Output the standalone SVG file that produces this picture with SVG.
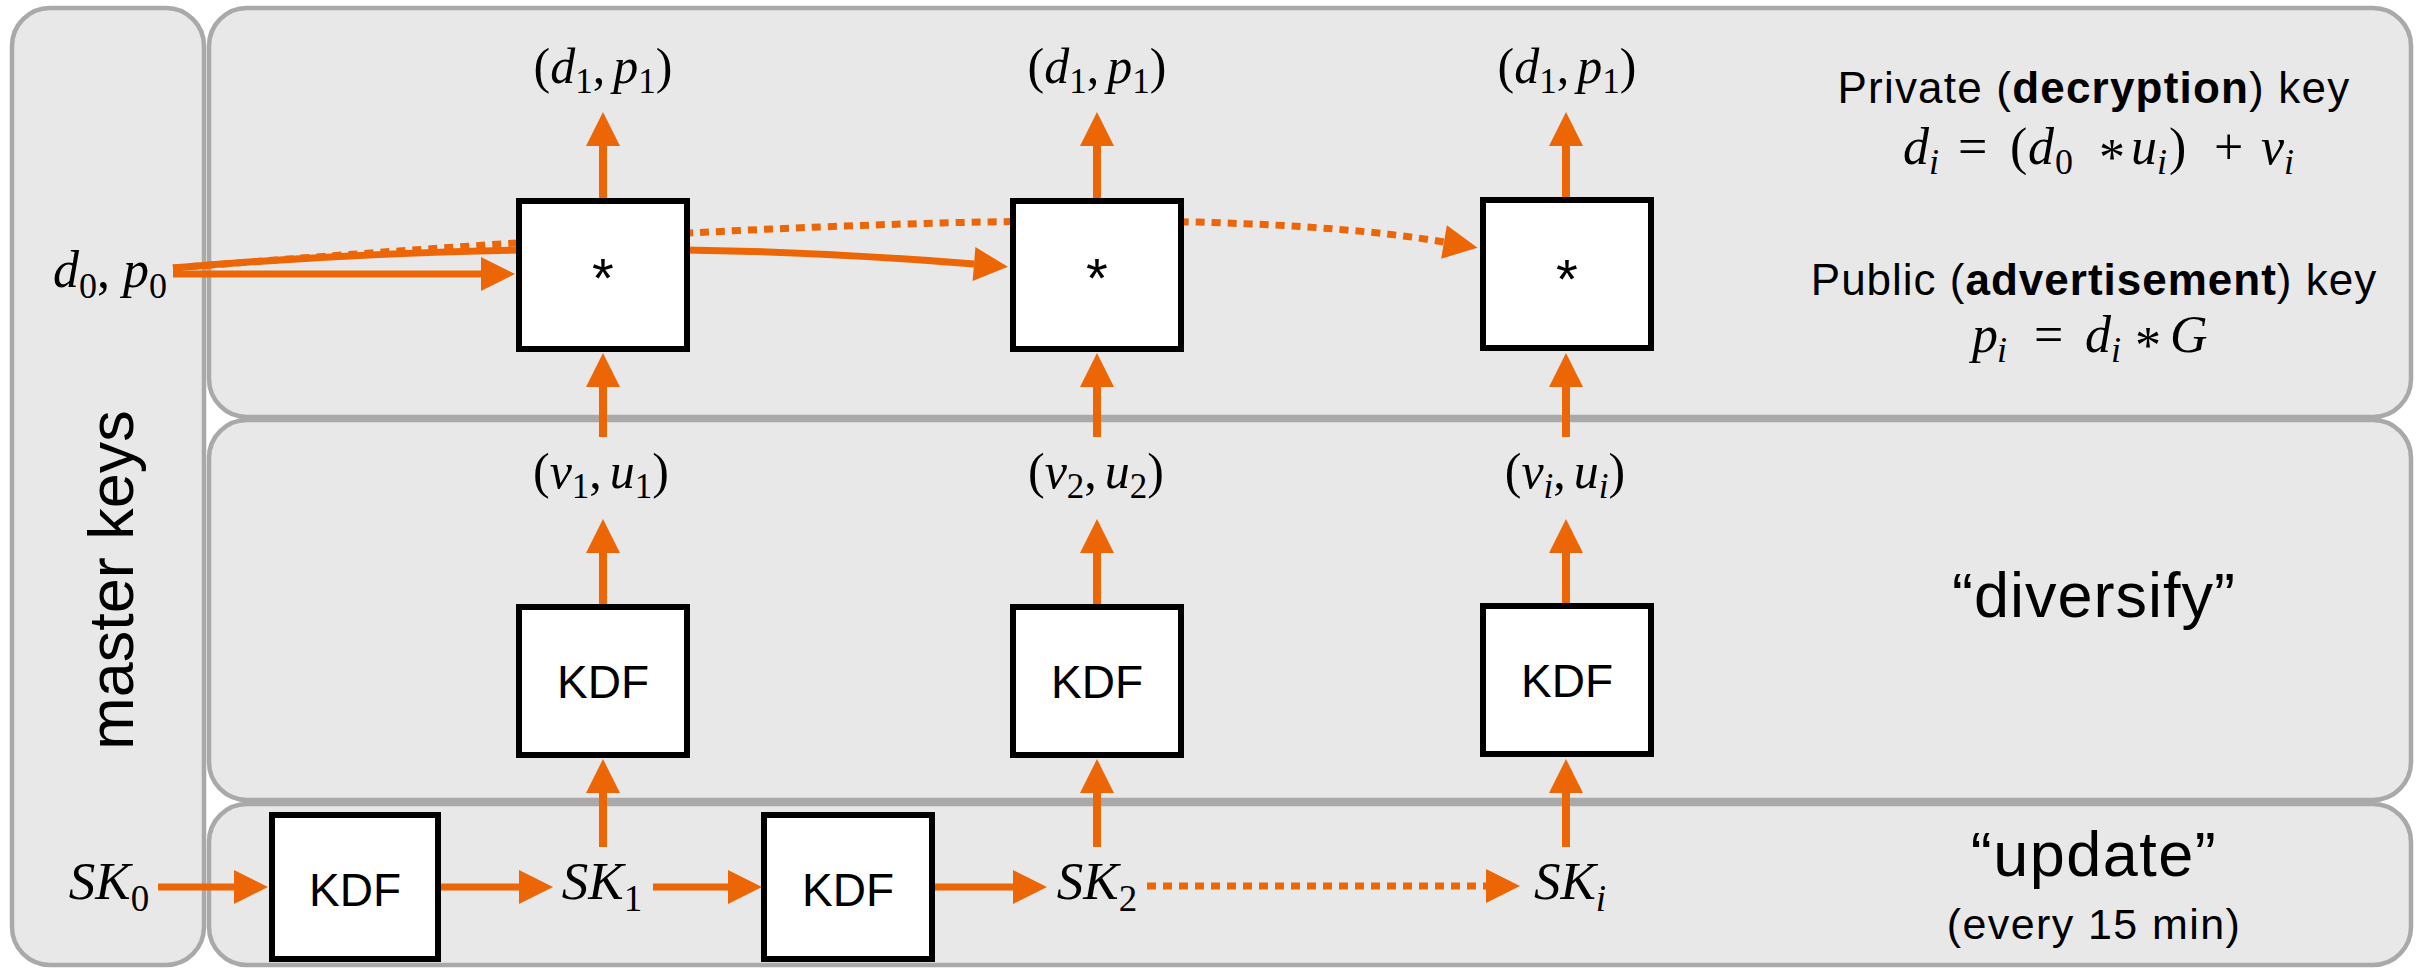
<svg xmlns="http://www.w3.org/2000/svg" width="2420" height="969" viewBox="0 0 2420 969">
  <defs>
    <style>
      .panel { fill: #e8e8e8; stroke: #a9a9a9; stroke-width: 4.5; }
      .box { fill: #ffffff; stroke: #000000; stroke-width: 6; }
      .wire { fill: none; stroke: #ec6605; stroke-width: 8; }
      .thin { stroke-width: 7; }
      .dot { stroke-dasharray: 9 7; stroke-width: 7; }
      .lbl { font-family: "Liberation Sans", Arial, sans-serif; fill: #000000; }
      .m { font-family: "Liberation Serif", "Times New Roman", serif; fill: #000000; }
      .i { font-style: italic; }
      .b { font-weight: bold; }
    </style>
    <marker id="head" markerUnits="userSpaceOnUse" markerWidth="34" markerHeight="34" refX="0" refY="17" orient="auto" overflow="visible">
      <path d="M0,0 L34,17 L0,34 Z" fill="#ec6605"/>
    </marker>
  </defs>

  <!-- background panels -->
  <g id="panel-master">
    <rect class="panel" x="12" y="8" width="192" height="957" rx="38"/>
    <text class="lbl" font-size="63" text-anchor="middle" transform="translate(133,580) rotate(-90)">master keys</text>
  </g>
  <g id="panel-keys">
    <rect class="panel" x="209" y="8" width="2202" height="409" rx="38"/>
  </g>
  <g id="panel-diversify">
    <rect class="panel" x="209" y="420" width="2202" height="380" rx="38"/>
  </g>
  <g id="panel-update">
    <rect class="panel" x="209" y="804" width="2202" height="161" rx="38"/>
  </g>

  <!-- connectors -->
  <g id="connectors">
    <!-- d0,p0 fan-out -->
    <path class="wire dot" d="M173,268 C673,228 1194,199.5 1444,242" marker-end="url(#head)"/>
    <path class="wire thin" d="M173,268 Q591,232.5 974,264" marker-end="url(#head)"/>
    <path class="wire thin" d="M173,274 H481" marker-end="url(#head)"/>

    <!-- column 1 -->
    <path class="wire" d="M603,198 V146" marker-end="url(#head)"/>
    <path class="wire" d="M603,437 V387" marker-end="url(#head)"/>
    <path class="wire" d="M603,604 V553" marker-end="url(#head)"/>
    <path class="wire" d="M603,847 V793" marker-end="url(#head)"/>
    <!-- column 2 -->
    <path class="wire" d="M1097,198 V146" marker-end="url(#head)"/>
    <path class="wire" d="M1097,437 V387" marker-end="url(#head)"/>
    <path class="wire" d="M1097,604 V553" marker-end="url(#head)"/>
    <path class="wire" d="M1097,847 V793" marker-end="url(#head)"/>
    <!-- column i -->
    <path class="wire" d="M1566,198 V146" marker-end="url(#head)"/>
    <path class="wire" d="M1566,437 V387" marker-end="url(#head)"/>
    <path class="wire" d="M1566,604 V553" marker-end="url(#head)"/>
    <path class="wire" d="M1566,847 V793" marker-end="url(#head)"/>

    <!-- update chain -->
    <path class="wire thin" d="M158,887 H234" marker-end="url(#head)"/>
    <path class="wire thin" d="M441,887 H519" marker-end="url(#head)"/>
    <path class="wire thin" d="M653,887 H728" marker-end="url(#head)"/>
    <path class="wire thin" d="M935,887 H1013" marker-end="url(#head)"/>
    <path class="wire dot" d="M1147,886 H1486" marker-end="url(#head)"/>
  </g>

  <!-- multiply nodes -->
  <g id="mul-1">
    <rect class="box" x="519" y="201" width="168" height="148"/>
    <text class="lbl" x="603" y="297" font-size="56" text-anchor="middle">*</text>
  </g>
  <g id="mul-2">
    <rect class="box" x="1013" y="201" width="168" height="148"/>
    <text class="lbl" x="1097" y="297" font-size="56" text-anchor="middle">*</text>
  </g>
  <g id="mul-i">
    <rect class="box" x="1483" y="200" width="168" height="148"/>
    <text class="lbl" x="1567" y="298" font-size="56" text-anchor="middle">*</text>
  </g>

  <!-- diversify KDF nodes -->
  <g id="kdf-div-1">
    <rect class="box" x="519" y="607" width="168" height="148"/>
    <text class="lbl" x="603" y="698" font-size="46" text-anchor="middle">KDF</text>
  </g>
  <g id="kdf-div-2">
    <rect class="box" x="1013" y="607" width="168" height="148"/>
    <text class="lbl" x="1097" y="698" font-size="46" text-anchor="middle">KDF</text>
  </g>
  <g id="kdf-div-i">
    <rect class="box" x="1483" y="606" width="168" height="148"/>
    <text class="lbl" x="1567" y="697" font-size="46" text-anchor="middle">KDF</text>
  </g>

  <!-- update KDF nodes -->
  <g id="kdf-upd-1">
    <rect class="box" x="272" y="815" width="166" height="144"/>
    <text class="lbl" x="355" y="906" font-size="46" text-anchor="middle">KDF</text>
  </g>
  <g id="kdf-upd-2">
    <rect class="box" x="764" y="815" width="168" height="144"/>
    <text class="lbl" x="848" y="906" font-size="46" text-anchor="middle">KDF</text>
  </g>

  <!-- key pair outputs -->
  <g id="out-1">
    <text class="m" x="603" y="83" font-size="50" text-anchor="middle">(<tspan class="i">d</tspan><tspan font-size="35" dy="10">1</tspan><tspan dy="-10">,</tspan><tspan class="i" dx="8">p</tspan><tspan font-size="35" dy="10">1</tspan><tspan dy="-10">)</tspan></text>
  </g>
  <g id="out-2">
    <text class="m" x="1097" y="83" font-size="50" text-anchor="middle">(<tspan class="i">d</tspan><tspan font-size="35" dy="10">1</tspan><tspan dy="-10">,</tspan><tspan class="i" dx="8">p</tspan><tspan font-size="35" dy="10">1</tspan><tspan dy="-10">)</tspan></text>
  </g>
  <g id="out-i">
    <text class="m" x="1567" y="83" font-size="50" text-anchor="middle">(<tspan class="i">d</tspan><tspan font-size="35" dy="10">1</tspan><tspan dy="-10">,</tspan><tspan class="i" dx="8">p</tspan><tspan font-size="35" dy="10">1</tspan><tspan dy="-10">)</tspan></text>
  </g>

  <!-- tweak outputs -->
  <g id="tweak-1">
    <text class="m" x="601" y="488" font-size="50" text-anchor="middle">(<tspan class="i">v</tspan><tspan font-size="35" dy="10">1</tspan><tspan dy="-10">,</tspan><tspan class="i" dx="8">u</tspan><tspan font-size="35" dy="10">1</tspan><tspan dy="-10">)</tspan></text>
  </g>
  <g id="tweak-2">
    <text class="m" x="1096" y="488" font-size="50" text-anchor="middle">(<tspan class="i">v</tspan><tspan font-size="35" dy="10">2</tspan><tspan dy="-10">,</tspan><tspan class="i" dx="8">u</tspan><tspan font-size="35" dy="10">2</tspan><tspan dy="-10">)</tspan></text>
  </g>
  <g id="tweak-i">
    <text class="m" x="1565" y="488" font-size="50" text-anchor="middle">(<tspan class="i">v</tspan><tspan class="i" font-size="35" dy="10">i</tspan><tspan dy="-10">,</tspan><tspan class="i" dx="8">u</tspan><tspan class="i" font-size="35" dy="10">i</tspan><tspan dy="-10">)</tspan></text>
  </g>

  <!-- master key pair -->
  <g id="master-d0p0">
    <text class="m" x="53" y="287" font-size="52"><tspan class="i">d</tspan><tspan font-size="36" dy="11">0</tspan><tspan dy="-11">, </tspan><tspan class="i">p</tspan><tspan font-size="36" dy="11">0</tspan></text>
  </g>

  <!-- secret keys -->
  <g id="sk-0">
    <text class="m" x="109" y="899" font-size="53" text-anchor="middle"><tspan class="i">SK</tspan><tspan font-size="37" dy="12">0</tspan></text>
  </g>
  <g id="sk-1">
    <text class="m" x="602" y="899" font-size="53" text-anchor="middle"><tspan class="i">SK</tspan><tspan font-size="37" dy="12">1</tspan></text>
  </g>
  <g id="sk-2">
    <text class="m" x="1097" y="899" font-size="53" text-anchor="middle"><tspan class="i">SK</tspan><tspan font-size="37" dy="12">2</tspan></text>
  </g>
  <g id="sk-i">
    <text class="m" x="1570" y="899" font-size="53" text-anchor="middle"><tspan class="i">SK</tspan><tspan class="i" font-size="37" dy="12">i</tspan></text>
  </g>

  <!-- legend: key formulas -->
  <g id="legend-private">
    <text class="lbl" x="2094" y="103" font-size="44" letter-spacing="1.2" text-anchor="middle">Private (<tspan class="b">decryption</tspan>) key</text>
    <text class="m" y="164" font-size="52"><tspan class="i" x="1903">d</tspan><tspan class="i" x="1929" font-size="36" dy="10">i</tspan><tspan x="1958" dy="-10">=</tspan><tspan x="2010">(</tspan><tspan class="i" x="2028">d</tspan><tspan x="2055" font-size="36" dy="10">0</tspan><tspan x="2099" dy="1">*</tspan><tspan class="i" x="2131" dy="-11">u</tspan><tspan class="i" x="2157" font-size="36" dy="10">i</tspan><tspan x="2169" dy="-10">)</tspan><tspan x="2214">+</tspan><tspan class="i" x="2261">v</tspan><tspan class="i" x="2284" font-size="36" dy="10">i</tspan></text>
  </g>
  <g id="legend-public">
    <text class="lbl" x="2094" y="295" font-size="44" letter-spacing="1" text-anchor="middle">Public (<tspan class="b">advertisement</tspan>) key</text>
    <text class="m" y="352" font-size="52"><tspan class="i" x="1972">p</tspan><tspan class="i" x="1997" font-size="36" dy="10">i</tspan><tspan x="2034" dy="-10">=</tspan><tspan class="i" x="2085">d</tspan><tspan class="i" x="2111" font-size="36" dy="10">i</tspan><tspan x="2135" dy="1">*</tspan><tspan class="i" x="2170" dy="-11">G</tspan></text>
  </g>

  <!-- stage captions -->
  <g id="caption-diversify">
    <text class="lbl" x="2094" y="617" font-size="63" letter-spacing="1" text-anchor="middle">“diversify”</text>
  </g>
  <g id="caption-update">
    <text class="lbl" x="2094" y="876" font-size="63" letter-spacing="1.5" text-anchor="middle">“update”</text>
    <text class="lbl" x="2094" y="939" font-size="43" letter-spacing="1.4" text-anchor="middle">(every 15 min)</text>
  </g>
</svg>
